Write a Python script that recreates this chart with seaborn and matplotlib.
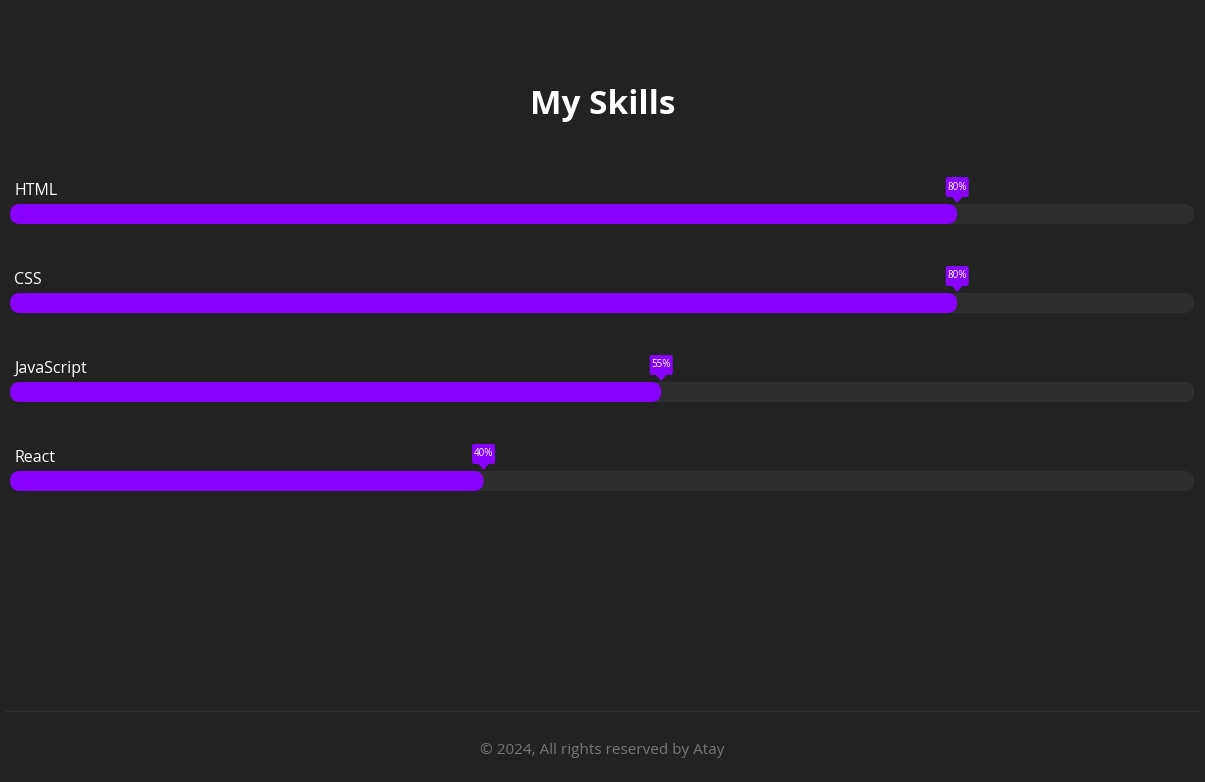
import matplotlib
matplotlib.use("Agg")
import matplotlib.pyplot as plt
from matplotlib.patches import FancyBboxPatch, Polygon
import seaborn as sns
import pandas as pd

# skill data
skills = ["HTML", "CSS", "JavaScript", "React"]
levels = [80, 80, 55, 40]
track = [100, 100, 100, 100]

title = "My Skills"
footer = "\u00a9 2024, All rights reserved by Atay"

bg = "#222222"
purple = "#8800ff"
track_col = "#2e2e2e"

sns.set_style("dark", {"axes.facecolor": bg, "figure.facecolor": bg})
plt.rcParams["font.family"] = ["Open Sans", "DejaVu Sans"]

W, H = 1205, 782
fig = plt.figure(figsize=(W / 100, H / 100), dpi=100)
fig.patch.set_facecolor(bg)

# bars axes: bar area 10..1194 px, rows 89 px apart, first bar center at 214 px
gap = 89
bar_h = 20
top = 214 - gap / 2
ax = fig.add_axes([10 / W, 1 - (top + 4 * gap) / H, 1184 / W, 4 * gap / H])
df = pd.DataFrame({"skill": skills, "level": levels, "track": track})
w = bar_h / gap
sns.barplot(data=df, x="track", y="skill", orient="h", color=track_col, width=w, ax=ax, saturation=1)
sns.barplot(data=df, x="level", y="skill", orient="h", color=purple, width=w, ax=ax, saturation=1)
ax.set_xlim(0, 100)
ax.set_ylim(len(skills) - 0.5, -0.5)
ax.axis("off")

# swap rectangles for rounded ones
aspect = (1 / gap) / (100 / 1184)
rects = list(ax.patches)
for r in rects:
    x0, y0 = r.get_x(), r.get_y()
    bw, bh = r.get_width(), r.get_height()
    rr = (bar_h / 2) * 100 / 1184
    fp = FancyBboxPatch((x0, y0), bw, bh, boxstyle=f"round,pad=0,rounding_size={rr}",
                        mutation_aspect=aspect, facecolor=r.get_facecolor(), edgecolor="none")
    r.remove()
    ax.add_patch(fp)

# overlay in pixel coords for text and badges
ov = fig.add_axes([0, 0, 1, 1], zorder=3)
ov.set_xlim(0, W)
ov.set_ylim(H, 0)
ov.axis("off")
ov.patch.set_alpha(0)

ov.text(W / 2, 105, title, color="white", fontsize=24, fontweight="bold",
        ha="center", va="center")

inv = ov.transData.inverted()
for i, (s, v) in enumerate(zip(skills, levels)):
    px, py = inv.transform(ax.transData.transform((v, i)))
    ov.text(14, py - 23, s, color="white", fontsize=11.5, ha="left", va="center")
    # badge
    ov.add_patch(FancyBboxPatch((px - 11.5, py - 37), 23, 20,
                                boxstyle="round,pad=0,rounding_size=2",
                                facecolor=purple, edgecolor="none"))
    ov.add_patch(Polygon([[px - 6, py - 18], [px + 6, py - 18], [px, py - 11]],
                         closed=True, facecolor=purple, edgecolor="none"))
    ov.text(px, py - 27, f"{v}%", color="white", fontsize=7, ha="center", va="center")

ov.plot([5, 1200], [711, 711], color="#2e2e2e", lw=1)
ov.text(W / 2, 750, footer, color="#777777", fontsize=11, ha="center", va="center")

fig.savefig("out.png", dpi=100, facecolor=bg)
